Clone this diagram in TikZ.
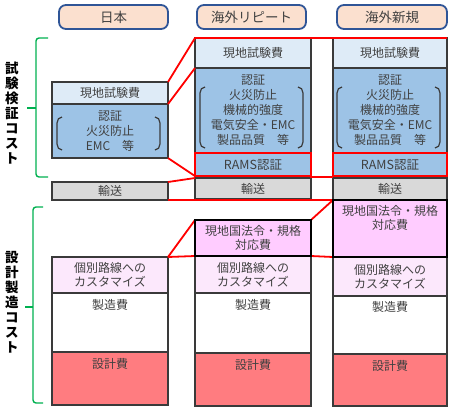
\documentclass[tikz,border=0pt]{standalone}
\usepackage{fontspec}
\setmainfont{Noto Sans CJK JP}
\begin{document}
\definecolor{hdrfill}{HTML}{FBE0CF}
\definecolor{hdrline}{HTML}{2F5597}
\definecolor{lblue}{HTML}{DEEBF7}
\definecolor{mblue}{HTML}{9DC3E6}
\definecolor{lgray}{HTML}{D9D9D9}
\definecolor{lpink}{HTML}{FCE8FC}
\definecolor{mpink}{HTML}{FFCCFF}
\definecolor{dred}{HTML}{FF7C80}
\definecolor{bgreen}{HTML}{00B050}
\definecolor{edge}{HTML}{3A3A3A}
\definecolor{txt}{HTML}{404040}
\newcommand\mkbox[7]{\node[#6, minimum width={(#4-#2)*1pt}, minimum height={(#5-#3)*1pt}] (#1) at ({(#2+#4)/2},{(#3+#5)/2}) {#7};}
\begin{tikzpicture}[x=1pt,y=-1pt,
  cell/.style={draw=edge, line width=1.3pt, inner sep=0pt, outer sep=0pt, text=txt, font=\fontsize{12}{14}\selectfont, align=center},
  lawcell/.style={cell, draw=black, line width=2.2pt, fill=mpink},
  ramscell/.style={cell, draw=red, line width=1.5pt, fill=mblue, font=\fontsize{12.5}{14}\selectfont},
  hdr/.style={draw=hdrline, line width=1.8pt, fill=hdrfill, rounded corners=7pt, inner sep=0pt, text=txt, font=\fontsize{13.5}{16}\selectfont},
  celltext/.style={text=txt, font=\fontsize{12}{14.5}\selectfont, align=center, inner sep=0pt},
  authtext/.style={text=txt, font=\fontsize{12}{15}\selectfont, align=center, inner sep=0pt},
  brk/.style={draw=edge, line width=1.2pt},
  redline/.style={draw=red, line width=1.8pt},
  brace/.style={draw=bgreen, line width=1.4pt, rounded corners=3pt},
  vlabel/.style={font=\bfseries\fontsize{13.5}{15}\selectfont, align=center, inner sep=0pt, text=black}
]
\useasboundingbox (0,0) rectangle (450,410);
% headers
\mkbox{h1}{59}{5}{168}{29}{hdr}{日本}
\mkbox{h2}{197}{5}{306}{29}{hdr}{海外リピート}
\mkbox{h3}{337}{5}{447}{29}{hdr}{海外新規}
% column 1
\mkbox{c1test}{52}{82}{168}{104}{cell, fill=lblue}{現地試験費}
\mkbox{c1auth}{52}{104}{168}{158}{cell, fill=mblue}{}
\mkbox{c1trans}{52}{182}{168}{200}{cell, fill=lgray}{輸送}
\mkbox{c1cust}{52}{257}{168}{293}{cell, fill=lpink}{個別路線への\\カスタマイズ}
\mkbox{c1mfg}{52}{293}{168}{352}{cell, fill=white}{}
\mkbox{c1des}{52}{352}{168}{405}{cell, fill=dred}{}
% column 2
\mkbox{c2test}{195}{38}{311}{68}{cell, fill=lblue}{現地試験費}
\mkbox{c2auth}{195}{68}{311}{153}{cell, fill=mblue}{}
\mkbox{c2rams}{195}{153}{311}{176}{ramscell}{RAMS認証}
\mkbox{c2trans}{195}{178}{311}{199}{cell, fill=lgray}{輸送}
\mkbox{c2cust}{195}{256}{311}{293}{cell, fill=lpink}{個別路線への\\カスタマイズ}
\mkbox{c2law}{195}{220}{311}{256}{lawcell}{現地国法令・規格\\対応費}
\mkbox{c2mfg}{195}{293}{311}{353}{cell, fill=white}{}
\mkbox{c2des}{195}{353}{311}{406}{cell, fill=dred}{}
% column 3
\mkbox{c3test}{333}{38}{447}{68}{cell, fill=lblue}{現地試験費}
\mkbox{c3auth}{333}{68}{447}{153}{cell, fill=mblue}{}
\mkbox{c3rams}{333}{153}{447}{176}{ramscell}{RAMS認証}
\mkbox{c3trans}{333}{178}{447}{200}{cell, fill=lgray}{輸送}
\mkbox{c3cust}{333}{257}{447}{296}{cell, fill=lpink}{個別路線への\\カスタマイズ}
\mkbox{c3law}{333}{200}{447}{257}{lawcell}{}
\mkbox{c3mfg}{333}{296}{447}{354}{cell, fill=white}{}
\mkbox{c3des}{333}{354}{447}{406}{cell, fill=dred}{}
% texts
\node[authtext] (t1auth) at (110,131) {認証\\火災防止\\EMC　等};
\node[authtext] (t2auth) at (253,110) {認証\\火災防止\\機械的強度\\電気安全・EMC\\製品品質　等};
\node[authtext] (t3auth) at (390,110) {認証\\火災防止\\機械的強度\\電気安全・EMC\\製品品質　等};
\node[celltext, anchor=north] (t3law) at (390,205) {現地国法令・規格\\対応費};
\node[celltext] (t1mfg) at (110,305) {製造費};
\node[celltext] (t2mfg) at (253,305) {製造費};
\node[celltext] (t3mfg) at (390,307) {製造費};
\node[celltext] (t1des) at (110,364) {設計費};
\node[celltext] (t2des) at (253,365) {設計費};
\node[celltext] (t3des) at (390,366) {設計費};
% brackets
\foreach \l/\r/\t/\b in {57/160/117/150, 200/303/87/148, 337/440/87/148}{
  \draw[brk] ({\l+5},\t) to[out=180,in=90] (\l,{\t+6}) -- (\l,{\b-6}) to[out=-90,in=180] ({\l+5},\b);
  \draw[brk] ({\r-5},\t) to[out=0,in=90] (\r,{\t+6}) -- (\r,{\b-6}) to[out=-90,in=0] ({\r-5},\b);
}
% red connectors
\draw[redline] (c1test.north east) -- (c2test.north west) -- (c3test.north east);
\draw[redline] (c1test.south east) -- (c2auth.north west);
\draw[redline] (c1auth.south east) -- (c2rams.south west);
\draw[redline] (c2rams.north east) -- ([yshift=-1.2pt]c2rams.south east) -- ([yshift=-1.2pt]c3rams.south west);
\draw[redline] (c1trans.north east) -- (c2trans.north west);
\draw[redline] (c1trans.south east) -- (c3law.north west);
\draw[redline] (c2law.north east) -- (c3law.north west);
\draw[redline] (c1cust.north east) -- (c2law.north west);
\draw[redline] (c1cust.north east) -- (c2law.south west);
\draw[redline] (c2law.south east) -- (c3law.south west);
% redraw thick law boxes on top
\draw[draw=black, line width=2.2pt] (c2law.north west) rectangle (c2law.south east);
\draw[draw=black, line width=2.2pt] (c3law.north west) rectangle (c3law.south east);
% braces
\draw[brace] (48,38) -| (36,177) -- (48,177);
\draw[brace] (27,108) -- (36,108);
\draw[brace] (43,207) -| (33,403) -- (43,403);
\draw[brace] (25,307) -- (33,307);
% vertical labels
\node[vlabel] (l1) at (12,113) {試\\験\\検\\証\\コ\\ス\\ト};
\node[vlabel] (l2) at (12,302) {設\\計\\製\\造\\コ\\ス\\ト};
\end{tikzpicture}
\end{document}
